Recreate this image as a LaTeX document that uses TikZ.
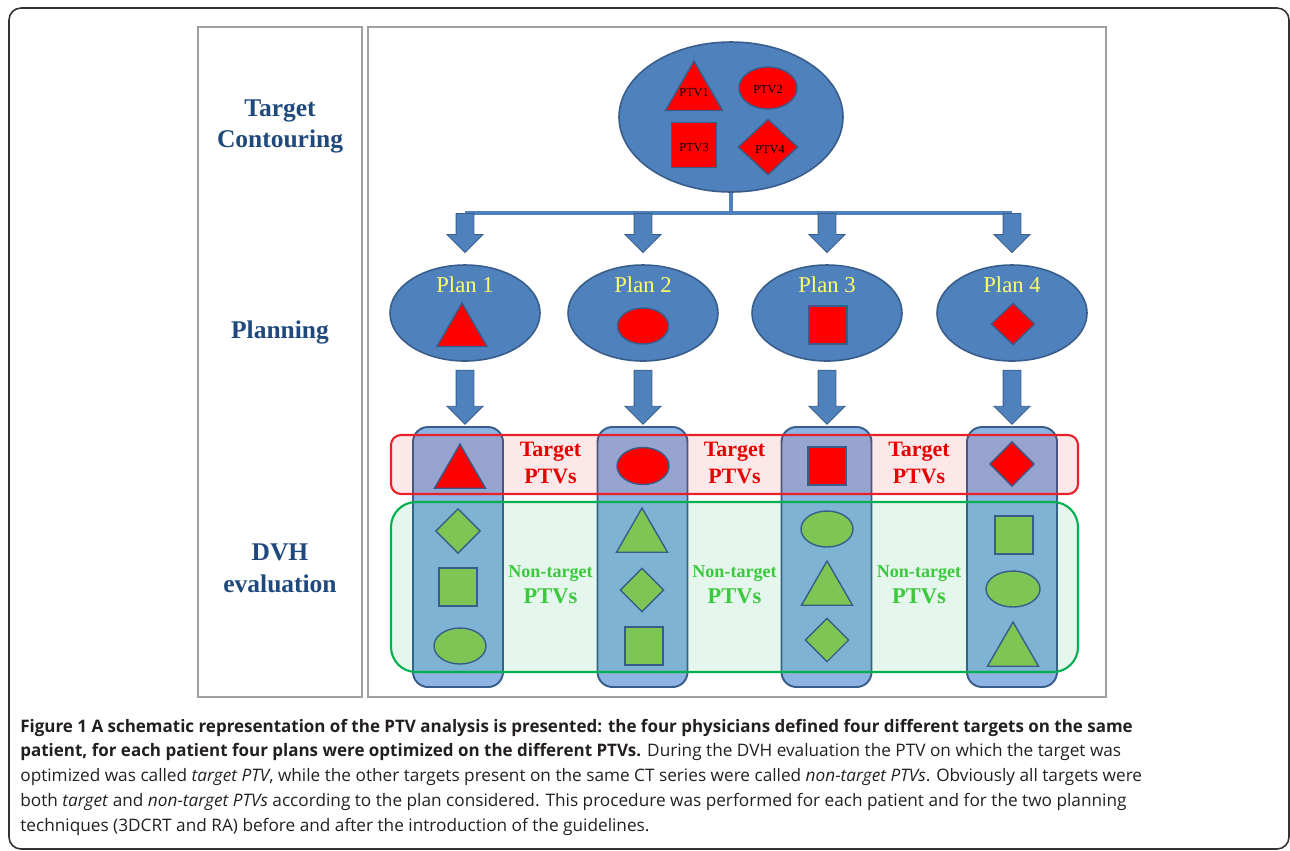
\documentclass[tikz,border=0pt]{standalone}
\usepackage{fontspec}
\setmainfont{Liberation Serif}
\newfontfamily\capfont{Open Sans}[BoldFeatures={FakeStretch=0.986}]
\usetikzlibrary{shapes.geometric,shapes.arrows}

\definecolor{ovalblue}{HTML}{4F81BD}
\definecolor{edgeblue}{HTML}{385D8A}
\definecolor{titleblue}{HTML}{1F497D}
\definecolor{colblue}{HTML}{8DB4E2}
\definecolor{ptvred}{HTML}{FF0000}
\definecolor{ptvgreen}{HTML}{7DC653}
\definecolor{bandred}{HTML}{E8202A}
\definecolor{bandgreen}{HTML}{00B050}
\definecolor{txtred}{HTML}{E60000}
\definecolor{txtgreen}{HTML}{3CC83C}
\definecolor{plantxt}{HTML}{FFFF66}
\definecolor{captxt}{HTML}{231F20}

\newdimen\unitpx
\unitpx=0.02cm

\begin{document}
\begin{tikzpicture}[x=0.02cm,y=-0.02cm]

    \tikzstyle{panel}=[draw=gray!75, line width=0.6pt]
    \tikzstyle{bigoval}=[ellipse, draw=edgeblue, fill=ovalblue, line width=0.9pt, inner sep=0]
    \tikzstyle{ptv}=[draw=edgeblue, line width=0.8pt, inner sep=0]
    \tikzstyle{ptvlabel}=[inner sep=0, font=\fontsize{7}{8}\selectfont]
    \tikzstyle{tri}=[ptv, regular polygon, regular polygon sides=3]
    \tikzstyle{oval}=[ptv, ellipse]
    \tikzstyle{box}=[ptv, rectangle]
    \tikzstyle{rhomb}=[ptv, diamond]
    \tikzstyle{stem}=[draw=ovalblue, line width=2.6pt]
    \tikzstyle{blockarrow}=[single arrow, draw=edgeblue, fill=ovalblue, line width=0.5pt, rotate=-90,
                            inner xsep=0, inner ysep=8.5\unitpx, single arrow head extend=9\unitpx, anchor=tail]
    \tikzstyle{column}=[draw=edgeblue, fill=colblue, line width=1.1pt, rounded corners=15\unitpx,
                        minimum width=90\unitpx, minimum height=260\unitpx, inner sep=0]
    \tikzstyle{rowtitle}=[text=titleblue, font=\fontsize{14.5}{18}\selectfont\bfseries, align=center]
    \tikzstyle{plantitle}=[text=plantxt, font=\fontsize{12.9}{15}\selectfont]
    \tikzstyle{targettext}=[text=txtred, font=\fontsize{12.5}{15}\selectfont\bfseries, align=center]
    \tikzstyle{othertext}=[text=txtgreen, font=\fontsize{12.8}{14.7}\selectfont\bfseries, align=center]

    \useasboundingbox (0,0) rectangle (1290,850);
    \draw[line width=0.9pt, draw=black!80, rounded corners=12\unitpx] (9,8) rectangle (1289,849);

    \draw[panel] (198,27) rectangle (362,697);
    \draw[panel] (368,27) rectangle (1106,697);

    \node[rowtitle] (contouring) at (280,126.5) {Target\\Contouring};
    \node[rowtitle] (planning) at (280,332) {Planning};
    \node[rowtitle] (dvh) at (280,568) {DVH\\evaluation};

    % target contouring
    \node[bigoval, minimum width=224\unitpx, minimum height=150\unitpx] (ptvs) at (731,117) {};
    \node[tri, fill=ptvred, minimum size=66\unitpx] (ptv1) at (694,94) {};
    \node[oval, fill=ptvred, minimum width=58\unitpx, minimum height=42\unitpx] (ptv2) at (768,88) {};
    \node[box, fill=ptvred, minimum size=45\unitpx] (ptv3) at (694,145) {};
    \node[rhomb, fill=ptvred, minimum width=60\unitpx, minimum height=56\unitpx] (ptv4) at (768,147) {};
    \node[ptvlabel] (ptv1label) at (694,93) {PTV1};
    \node[ptvlabel] (ptv2label) at (768,90) {PTV2};
    \node[ptvlabel] (ptv3label) at (694,148) {PTV3};
    \node[ptvlabel] (ptv4label) at (770,150) {PTV4};

    % planning
    \foreach \x/\n in {465/1,643/2,827/3,1012/4}{
        \node[bigoval, minimum width=150\unitpx, minimum height=96\unitpx] (plan\n) at (\x,313) {};
        \node[plantitle] (plantitle\n) at (\x,284.5) {Plan \n};
    }
    \node[tri, fill=ptvred, minimum size=58\unitpx] (plan1ptv) at (462,332) {};
    \node[oval, fill=ptvred, minimum width=51\unitpx, minimum height=36\unitpx] (plan2ptv) at (643,326) {};
    \node[box, fill=ptvred, minimum size=38\unitpx] (plan3ptv) at (828,325) {};
    \node[rhomb, fill=ptvred, minimum width=44\unitpx, minimum height=42\unitpx] (plan4ptv) at (1013,324) {};

    \coordinate (bar) at (731,213);
    \draw[stem] (ptvs.south) -- (bar);
    \draw[stem] (bar -| plan1) -- (bar -| plan4);
    \foreach \n in {1,2,3,4}{
        \node[blockarrow, minimum height=39\unitpx] (split\n) at (bar -| plan\n) {};
        \node[blockarrow, minimum height=54\unitpx] (down\n) at ([yshift=-8\unitpx]plan\n.south) {};
    }

    % dvh evaluation
    \node[column] (col1) at (458,557) {};
    \node[column] (col2) at (642.5,557) {};
    \node[column] (col3) at (826.5,557) {};
    \node[column] (col4) at (1012,557) {};

    \node[draw=bandred, fill=bandred, fill opacity=0.1, line width=1.2pt, rounded corners=10\unitpx,
          minimum width=687\unitpx, minimum height=59\unitpx] (targetband) at (734.5,464.5) {};
    \node[draw=bandgreen, fill=bandgreen, fill opacity=0.1, line width=1.2pt, rounded corners=25\unitpx,
          minimum width=687\unitpx, minimum height=170\unitpx] (otherband) at (734.5,587) {};

    \node[tri, fill=ptvred, minimum size=59\unitpx] (c1t) at (460,473.5) {};
    \node[rhomb, fill=ptvgreen, minimum width=45\unitpx, minimum height=45\unitpx] (c1a) at (458,531) {};
    \node[box, fill=ptvgreen, minimum size=38\unitpx] (c1b) at (458,587) {};
    \node[oval, fill=ptvgreen, minimum width=52\unitpx, minimum height=36\unitpx] (c1c) at (460,646) {};

    \node[oval, fill=ptvred, minimum width=52\unitpx, minimum height=37\unitpx] (c2t) at (643,466) {};
    \node[tri, fill=ptvgreen, minimum size=59\unitpx] (c2a) at (642,537.5) {};
    \node[rhomb, fill=ptvgreen, minimum width=44\unitpx, minimum height=44\unitpx] (c2b) at (642,590) {};
    \node[box, fill=ptvgreen, minimum size=38\unitpx] (c2c) at (644,646) {};

    \node[box, fill=ptvred, minimum size=38\unitpx] (c3t) at (827,466) {};
    \node[oval, fill=ptvgreen, minimum width=52\unitpx, minimum height=36\unitpx] (c3a) at (827,529) {};
    \node[tri, fill=ptvgreen, minimum size=59\unitpx] (c3b) at (827,590.5) {};
    \node[rhomb, fill=ptvgreen, minimum width=44\unitpx, minimum height=44\unitpx] (c3c) at (827,640) {};

    \node[rhomb, fill=ptvred, minimum width=45\unitpx, minimum height=45\unitpx] (c4t) at (1012,464) {};
    \node[box, fill=ptvgreen, minimum size=38\unitpx] (c4a) at (1014,535) {};
    \node[oval, fill=ptvgreen, minimum width=54\unitpx, minimum height=36\unitpx] (c4b) at (1013,589) {};
    \node[tri, fill=ptvgreen, minimum size=59\unitpx] (c4c) at (1013,651.5) {};

    \foreach \x/\n in {550.5/1,734.5/2,919/3}{
        \node[targettext] (target\n) at (\x,463) {Target\\PTVs};
        \node[othertext] (other\n) at (\x,585) {\fontsize{10.3}{14.7}\selectfont Non-target\\PTVs};
    }

    \node[anchor=north west, inner sep=0, align=left, text=captxt,
          font=\capfont\fontsize{9.8}{14.2}\selectfont] (caption) at (20,718.5)
    {\textbf{Figure 1 A schematic representation of the PTV analysis is presented: the four physicians defined four different targets on the same}\\
     \textbf{patient, for each patient four plans were optimized on the different PTVs.} During the DVH evaluation the PTV on which the target was\\
     optimized was called \textit{target PTV}, while the other targets present on the same CT series were called \textit{non-target PTVs}. Obviously all targets were\\
     both \textit{target} and \textit{non-target PTVs} according to the plan considered. This procedure was performed for each patient and for the two planning\\
     techniques (3DCRT and RA) before and after the introduction of the guidelines.};
\end{tikzpicture}
\end{document}
